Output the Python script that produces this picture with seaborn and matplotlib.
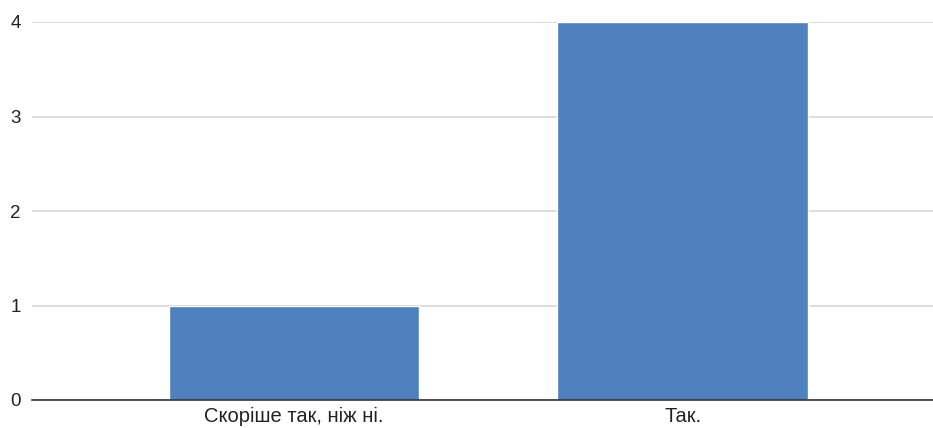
import matplotlib
matplotlib.use("Agg")
import matplotlib.pyplot as plt
import seaborn as sns
import pandas as pd

categories = ["Скоріше так, ніж ні.", "Так."]
counts = [1, 4]
y_ticks = [0, 1, 2, 3, 4]

df = pd.DataFrame({
    "answer": categories,
    "count": counts
})

sns.set_style("white")
plt.rcParams["font.family"] = ["Liberation Sans", "DejaVu Sans"]

fig = plt.figure(
    figsize=(9.33, 4.28),
    dpi=100
)

ax = fig.add_axes([32 / 933, 28 / 428, 901 / 933, 378 / 428])

sns.barplot(
    data=df,
    x="answer",
    y="count",
    color="#4e81bd",
    saturation=1,
    width=0.645,
    ax=ax
)

ax.set_xlim(-0.674, 1.644)
ax.set_ylim(0, 4)
ax.set_yticks(y_ticks)
ax.yaxis.grid(True, color="#d6d6d6", linewidth=1.2)
ax.set_axisbelow(True)

for side in ["top", "right", "left"]:
    ax.spines[side].set_visible(False)
ax.spines["bottom"].set_color("#333333")
ax.spines["bottom"].set_linewidth(1.2)

ax.tick_params(axis="y", length=0, pad=8, labelsize=13.5, labelcolor="#222222")
ax.tick_params(axis="x", length=0, pad=5, labelsize=14.5, labelcolor="#222222")

ax.set_xlabel("")
ax.set_ylabel("")

fig.savefig("out.png", dpi=100)
